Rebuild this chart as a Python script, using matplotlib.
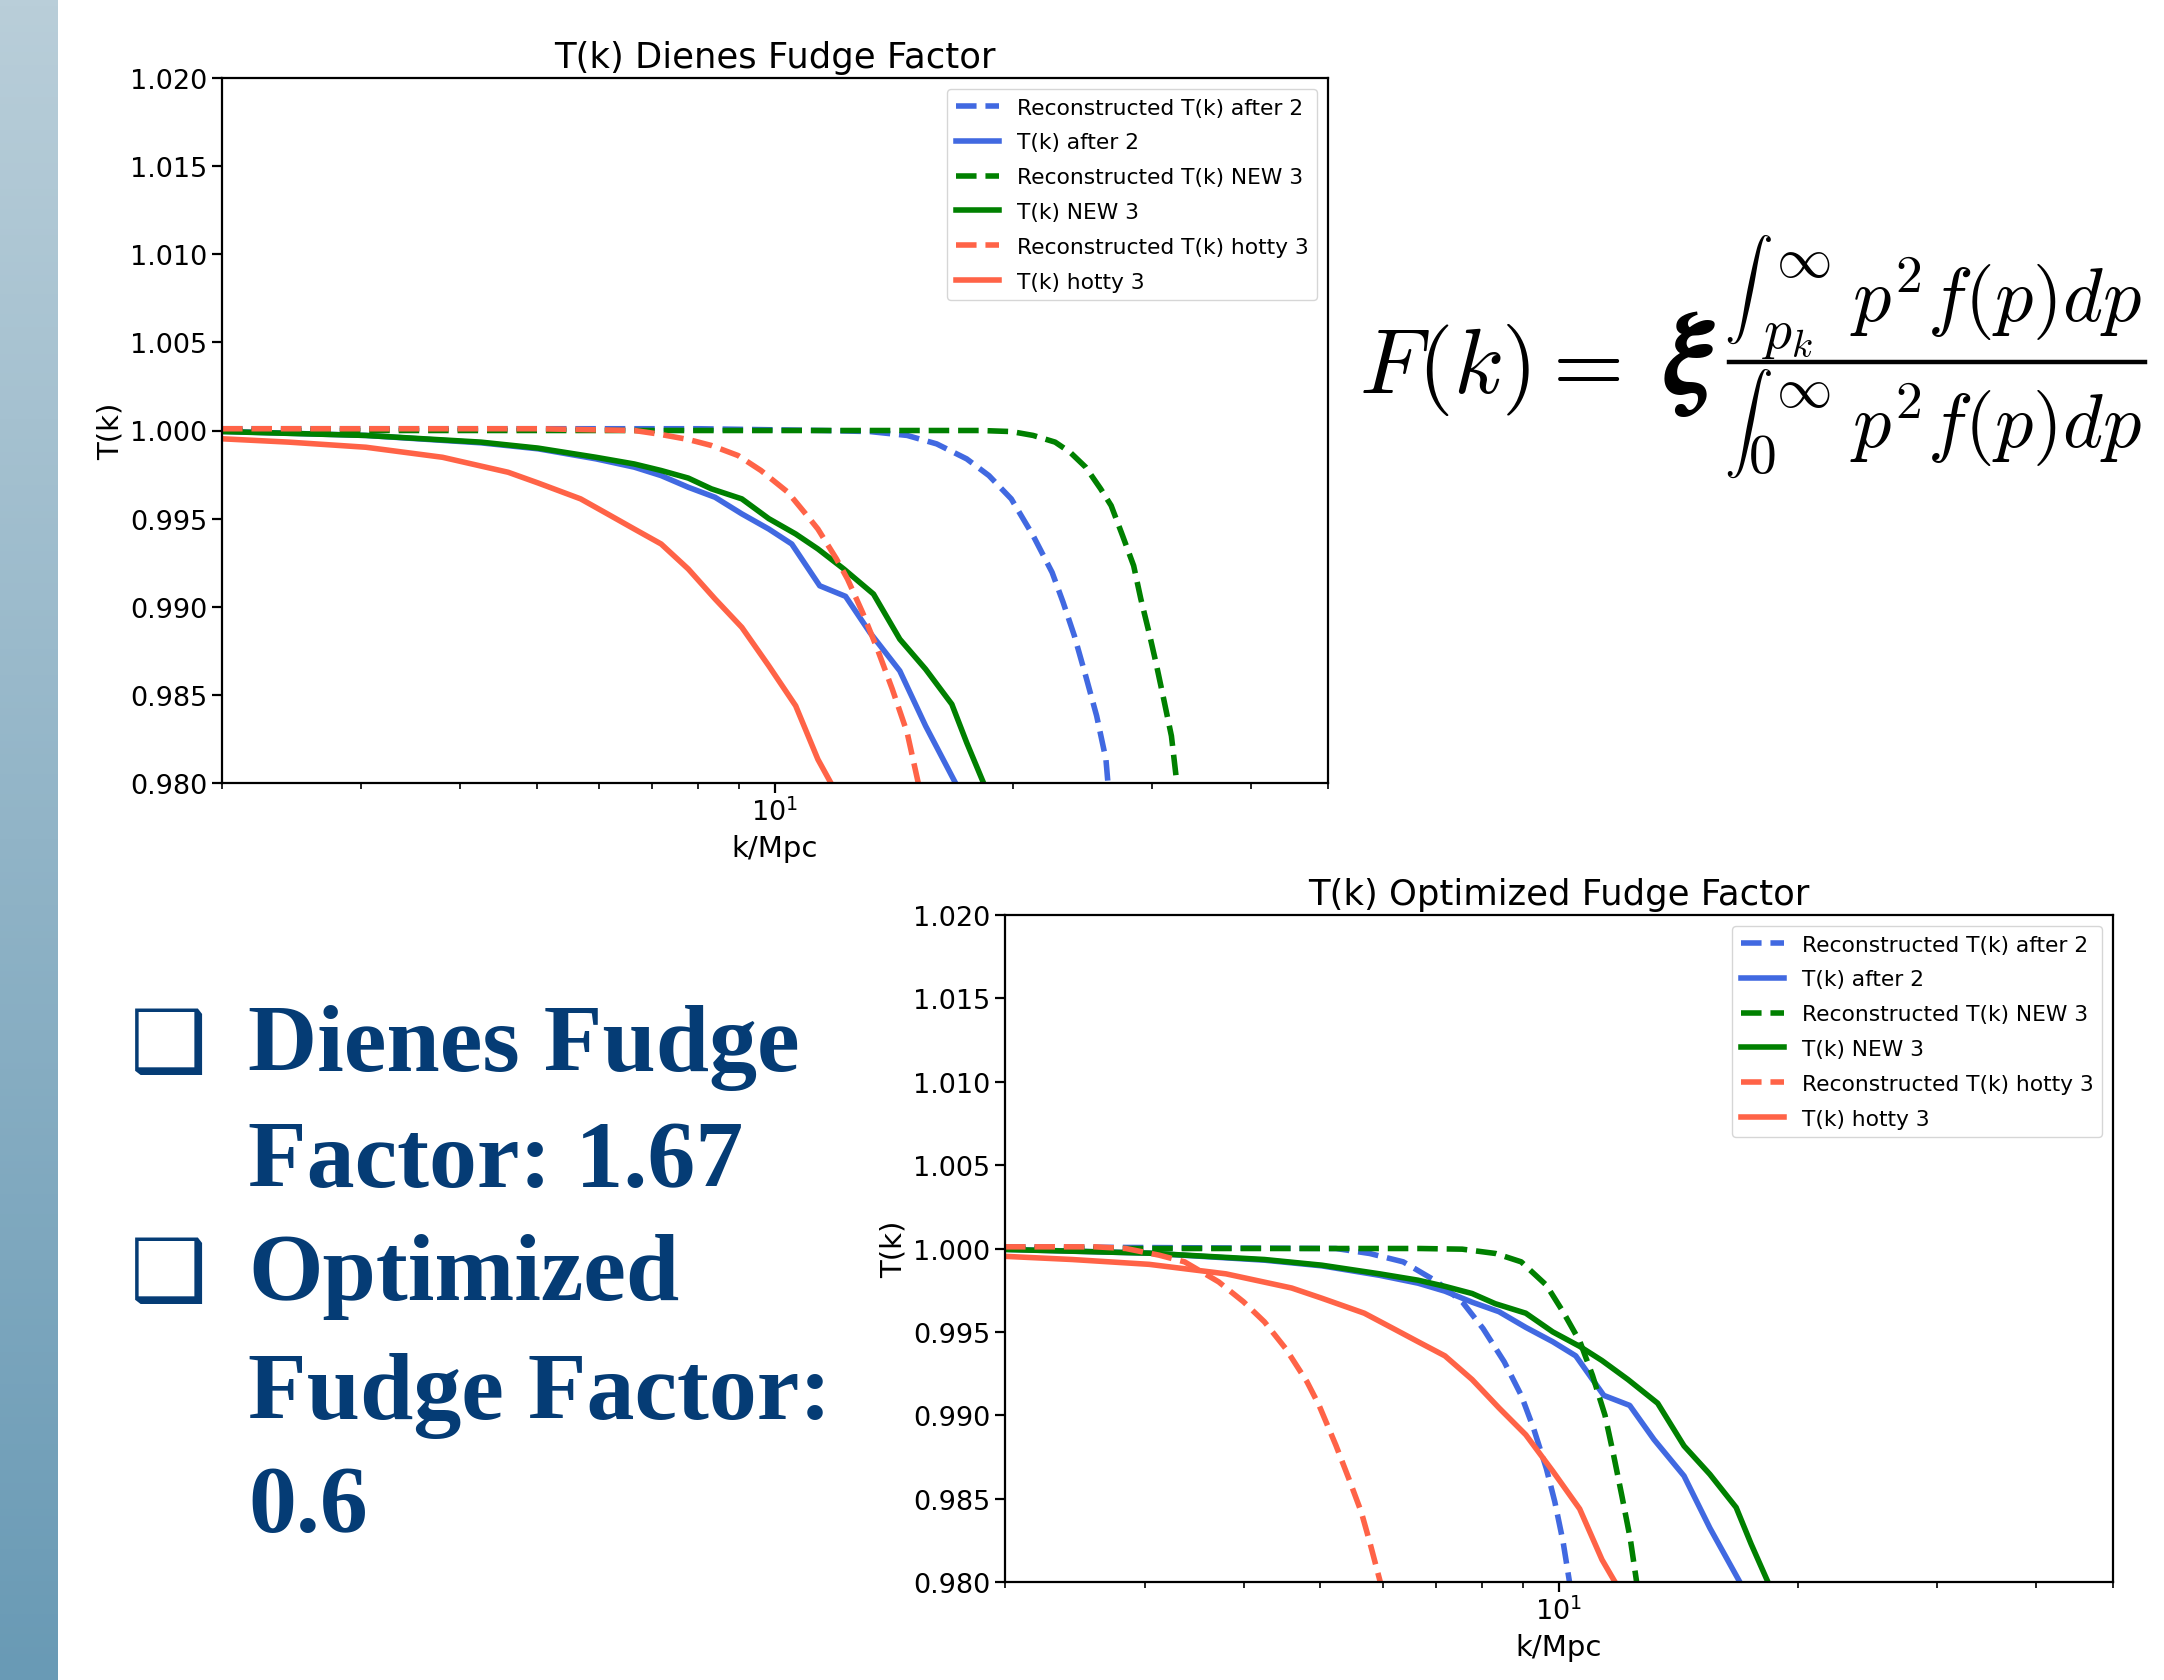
import numpy as np
import matplotlib
matplotlib.use("Agg")
import matplotlib.pyplot as plt
from matplotlib.ticker import NullFormatter, FormatStrFormatter
from matplotlib.colors import to_rgb
from matplotlib.lines import Line2D

# ---------------- data ----------------
labels = ["Reconstructed T(k) after 2", "T(k) after 2",
          "Reconstructed T(k) NEW 3", "T(k) NEW 3",
          "Reconstructed T(k) hotty 3", "T(k) hotty 3"]

# solid curves (identical in both panels)
k_after2 = [2.0, 3.04, 4.25, 5.02, 5.94, 6.64, 7.18, 7.77, 8.40, 9.08, 9.82, 10.5,
            11.39, 12.28, 13.18, 14.38, 15.5, 16.9]
T_after2 = [0.99995, 0.99972, 0.9993, 0.99896, 0.99839, 0.99792, 0.99744, 0.99678,
            0.99621, 0.99527, 0.99441, 0.99356, 0.99119, 0.99059, 0.98854, 0.98636,
            0.98324, 0.98002]

k_new3 = [2.0, 3.04, 4.25, 5.02, 5.94, 6.64, 7.18, 7.77, 8.31, 9.08, 9.82, 10.62,
          11.33, 12.22, 13.32, 14.38, 15.5, 16.73, 17.47, 18.34]
T_new3 = [0.99994, 0.99972, 0.99934, 0.9990, 0.99848, 0.9981, 0.99773, 0.9973,
          0.99669, 0.99612, 0.9950, 0.99413, 0.99328, 0.99214, 0.99072, 0.98816,
          0.98646, 0.98447, 0.98229, 0.98002]

k_hotty3 = [2.0, 2.43, 3.04, 3.80, 4.60, 5.02, 5.68, 6.14, 6.64, 7.18, 7.77, 8.40,
            9.08, 9.82, 10.62, 11.33, 11.76]
T_hotty3 = [0.99953, 0.99934, 0.99905, 0.99848, 0.99763, 0.99702, 0.99612, 0.99527,
            0.99441, 0.99356, 0.99214, 0.99044, 0.98883, 0.98665, 0.98438, 0.98134,
            0.98002]

# reconstructed curves, Dienes fudge factor (top panel)
k_rec_after2_d = [2.0, 8.0, 11.5, 13.18, 14.69, 16.01, 17.47, 18.64, 19.89, 21.2,
                  22.4, 23.13, 23.9, 24.7, 25.5, 26.2, 26.35]
T_rec_after2_d = [1.0001, 1.0001, 1.0000, 0.99994, 0.99972, 0.99924, 0.99839, 0.99744,
                  0.99612, 0.99403, 0.99195, 0.99025, 0.98835, 0.98608, 0.98381,
                  0.98134, 0.98002]
k_rec_new3_d = [2.0, 12.0, 18.2, 19.9, 21.2, 22.6, 23.6, 24.7, 25.8, 26.6, 27.5,
                28.4, 29.0, 29.7, 30.3, 31.0, 31.7, 32.2]
T_rec_new3_d = [1.0000, 1.0000, 1.0000, 0.99994, 0.99972, 0.99934, 0.99877, 0.99792,
                0.99669, 0.99574, 0.99403, 0.99233, 0.99044, 0.98854, 0.98684,
                0.98475, 0.98267, 0.98002]
k_rec_hotty3_d = [2.0, 5.0, 6.64, 7.10, 7.77, 8.31, 8.98, 9.60, 10.38, 10.98, 11.33,
                  11.96, 12.35, 12.9, 13.47, 14.07, 14.69, 15.17]
T_rec_hotty3_d = [1.0001, 1.0001, 1.0000, 0.99981, 0.99949, 0.99915, 0.99858, 0.99773,
                  0.9965, 0.99517, 0.99441, 0.99271, 0.99157, 0.98968, 0.9876,
                  0.98532, 0.98286, 0.98002]

# reconstructed curves, optimized fudge factor (bottom panel)
k_rec_after2_o = [2.0, 5.23, 5.77, 6.36, 7.02, 7.55, 8.02, 8.53, 8.96, 9.29, 9.64,
                  9.88, 10.12, 10.31]
T_rec_after2_o = [1.0001, 1.0000, 0.9997, 0.9992, 0.998, 0.9968, 0.9952, 0.9932,
                  0.9912, 0.9892, 0.9868, 0.9848, 0.9824, 0.9800]
k_rec_new3_o = [2.0, 6.68, 7.55, 8.32, 8.96, 9.64, 10.12, 10.63, 11.02, 11.43, 11.72,
                12.0, 12.3, 12.53]
T_rec_new3_o = [1.0000, 1.0000, 0.99996, 0.9997, 0.9992, 0.9978, 0.9962, 0.9944,
                0.9924, 0.9900, 0.9876, 0.9852, 0.9826, 0.9800]
k_rec_hotty3_o = [2.0, 2.6, 2.84, 3.13, 3.37, 3.72, 4.00, 4.25, 4.52, 4.81, 4.98,
                  5.23, 5.43, 5.63, 5.77, 5.95]
T_rec_hotty3_o = [1.0001, 1.0001, 1.0000, 0.9996, 0.9992, 0.998, 0.9968, 0.9956,
                  0.994, 0.992, 0.9906, 0.9882, 0.9862, 0.9842, 0.9824, 0.9800]

titles = ["T(k) Dienes Fudge Factor", "T(k) Optimized Fudge Factor"]
bullet_lines = [("❑", "Dienes Fudge"), ("", "Factor: 1.67"),
                ("❑", "Optimized"), ("", "Fudge Factor:"), ("", "0.6")]
formula_lhs = r"$F(k) =$"
formula_xi = r"$\boldsymbol{\xi}$"
formula_int = r"$\int$"
formula_lim_num = r"$p_k$"
formula_lim_den = r"$0$"
formula_lim_up = r"$\infty$"
formula_body = r"$p^2 f(p) dp$"

# ---------------- figure ----------------
W, H = 2164, 1681
plt.rcParams["mathtext.fontset"] = "cm"
fig = plt.figure(figsize=(W / 100, H / 100), dpi=100)
fig.patch.set_facecolor("white")


def fx(x):
    return x / W


def fy(y):
    return 1 - y / H


# left gradient bar
bar = fig.add_axes([0, 0, 58 / W, 1])
top_c = np.array(to_rgb("#b9ced9"))
bot_c = np.array(to_rgb("#699ab5"))
t = np.linspace(0, 1, 256)[:, None]
grad = (top_c[None, :] * (1 - t) + bot_c[None, :] * t)[:, None, :]
bar.imshow(grad, aspect="auto", extent=[0, 1, 0, 1])
bar.axis("off")

colors = ["royalblue", "royalblue", "green", "green", "tomato", "tomato"]
styles = ["--", "-", "--", "-", "--", "-"]


def make_panel(rect, title, rec):
    ax = fig.add_axes(rect)
    series = [rec[0], (k_after2, T_after2), rec[1], (k_new3, T_new3),
              rec[2], (k_hotty3, T_hotty3)]
    for (kk, TT), c, ls, lab in zip(series, colors, styles, labels):
        ax.plot(kk, TT, color=c, ls=ls, lw=4, label=lab)
    ax.set_xscale("log")
    ax.set_xlim(2, 50)
    ax.set_ylim(0.98, 1.02)
    ax.set_yticks(np.arange(0.98, 1.02001, 0.005))
    ax.yaxis.set_major_formatter(FormatStrFormatter("%.3f"))
    ax.xaxis.set_minor_formatter(NullFormatter())
    ax.tick_params(which="major", labelsize=19.5, length=7, width=1.6)
    ax.tick_params(which="minor", length=4, width=1.2)
    for s in ax.spines.values():
        s.set_linewidth(1.6)
    ax.set_xlabel("k/Mpc", fontsize=21, labelpad=6)
    ax.set_ylabel("T(k)", fontsize=21)
    ax.set_title(title, fontsize=25.5, pad=8)
    ax.legend(loc="upper right", fontsize=15.7, handlelength=2.0,
              labelspacing=0.68)
    return ax


make_panel([222 / W, 1 - 784 / H, 1106 / W, 705 / H], titles[0],
           [(k_rec_after2_d, T_rec_after2_d), (k_rec_new3_d, T_rec_new3_d),
            (k_rec_hotty3_d, T_rec_hotty3_d)])
make_panel([1005 / W, 1 - 1583 / H, 1108 / W, 667 / H], titles[1],
           [(k_rec_after2_o, T_rec_after2_o), (k_rec_new3_o, T_rec_new3_o),
            (k_rec_hotty3_o, T_rec_hotty3_o)])

# formula, built from pieces
fig.text(fx(1359), fy(393), formula_lhs, ha="left", va="baseline", fontsize=66)
fig.text(fx(1690), fy(393), formula_xi, ha="center", va="baseline", fontsize=84)
# numerator
fig.text(fx(1748), fy(290), formula_int, ha="center", va="center", fontsize=35)
fig.text(fx(1803), fy(262), formula_lim_up, ha="center", va="center", fontsize=40)
fig.text(fx(1788), fy(334), formula_lim_num, ha="center", va="center", fontsize=40)
fig.text(fx(1850), fy(322), formula_body, ha="left", va="baseline", fontsize=55)
# fraction bar
fig.add_artist(Line2D([fx(1729), fx(2145)], [fy(363), fy(363)],
                      transform=fig.transFigure, color="black", lw=3.2))
# denominator
fig.text(fx(1748), fy(424), formula_int, ha="center", va="center", fontsize=35)
fig.text(fx(1803), fy(392), formula_lim_up, ha="center", va="center", fontsize=40)
fig.text(fx(1762), fy(458), formula_lim_den, ha="center", va="center", fontsize=40)
fig.text(fx(1850), fy(448), formula_body, ha="left", va="baseline", fontsize=55)

# bullet text
navy = "#053c75"
baselines = [1071, 1187, 1300, 1419, 1532]
for (b, txt), yb in zip(bullet_lines, baselines):
    if b:
        fig.text(fx(130), fy(yb), b, ha="left", va="baseline", fontsize=62,
                 color=navy, family=["DejaVu Sans"])
    fig.text(fx(248), fy(yb), txt, ha="left", va="baseline", fontsize=69,
             color=navy, fontweight="bold", family=["Liberation Serif", "DejaVu Serif"])

fig.savefig("out.png", dpi=100)
